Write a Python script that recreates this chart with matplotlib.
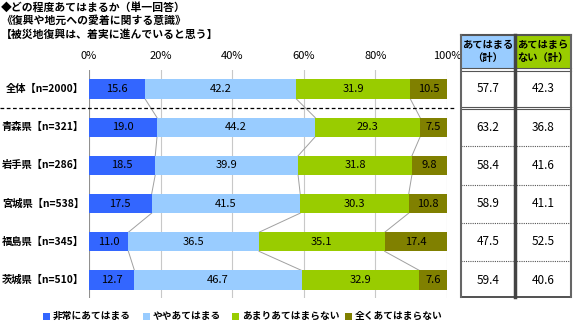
import numpy as np
import matplotlib
matplotlib.use('Agg')
import matplotlib.pyplot as plt
from matplotlib.patches import Rectangle

plt.rcParams['font.family'] = ['Noto Sans CJK JP', 'DejaVu Sans']

# ---- data ----
categories = ['全体【n=2000】', '青森県【n=321】', '岩手県【n=286】',
              '宮城県【n=538】', '福島県【n=345】', '茨城県【n=510】']
very_true = [15.6, 19.0, 18.5, 17.5, 11.0, 12.7]
somewhat_true = [42.2, 44.2, 39.9, 41.5, 36.5, 46.7]
not_really = [31.9, 29.3, 31.8, 30.3, 35.1, 32.9]
not_at_all = [10.5, 7.5, 9.8, 10.8, 17.4, 7.6]
total_true = [57.7, 63.2, 58.4, 58.9, 47.5, 59.4]
total_false = [42.3, 36.8, 41.6, 41.1, 52.5, 40.6]

series_names = ['非常にあてはまる', 'ややあてはまる', 'あまりあてはまらない', '全くあてはまらない']
colors = ['#3366FF', '#99CCFF', '#99CC00', '#808000']
xticks = [0, 20, 40, 60, 80, 100]
title_lines = ['◆どの程度あてはまるか（単一回答）',
               '《復興や地元への愛着に関する意識》',
               '【被災地復興は、着実に進んでいると思う】']
table_headers = ['あてはまる\n（計）', 'あてはまら\nない（計）']

W, H = 573, 329
fig = plt.figure(figsize=(W / 100, H / 100), dpi=100)

# layout in pixels
x0_px, x1_px = 89, 447
y_top_px, y_bot_px = 70, 298
row0_px, row_step = 89, 38.2


def row_px(i):
    return row0_px + row_step * i


ax = fig.add_axes([x0_px / W, 1 - y_bot_px / H, (x1_px - x0_px) / W, (y_bot_px - y_top_px) / H])
ax.set_xlim(0, 100)
ax.set_ylim((y_bot_px - row0_px) / row_step, (y_top_px - row0_px) / row_step)

data = np.array([very_true, somewhat_true, not_really, not_at_all])
ypos = np.arange(len(categories))
bar_h = 0.5
left = np.zeros(len(categories))
for vals, col in zip(data, colors):
    ax.barh(ypos, vals, left=left, height=bar_h, color=col, zorder=3)
    for y, v, l in zip(ypos, vals, left):
        ax.text(l + v / 2, y, f'{v:.1f}', ha='center', va='center', fontsize=8, zorder=4)
    left += vals

# series lines joining segment boundaries between rows
cum = np.cumsum(data, axis=0)
for k in range(3):
    for i in range(len(categories) - 1):
        ax.plot([cum[k, i], cum[k, i + 1]], [i + bar_h / 2, i + 1 - bar_h / 2],
                color='#A0A0A0', lw=0.7, zorder=2)

for t in xticks:
    ax.axvline(t, color='#C8C8C8' if t else '#909090', lw=0.8, zorder=1)
ax.set_xticks(xticks)
ax.set_xticklabels([f'{t}%' for t in xticks], fontsize=8)
ax.xaxis.tick_top()
ax.tick_params(axis='x', length=0, pad=6.5)
ax.set_yticks([])
for s in ax.spines.values():
    s.set_visible(False)
ax.patch.set_alpha(0)

# overlay in pixel coordinates for labels, table, legend
ov = fig.add_axes([0, 0, 1, 1], zorder=5)
ov.set_xlim(0, W)
ov.set_ylim(H, 0)
ov.axis('off')

for j, line in enumerate(title_lines):
    ov.text(1, 7 + 14 * j, line, ha='left', va='center', fontsize=7.8, fontweight='bold')

for i, cat in enumerate(categories):
    ov.text(84, row_px(i), cat, ha='right', va='center', fontsize=7.4, fontweight='bold')

# dashed separator under the overall row
sep_y = (row_px(0) + row_px(1)) / 2
ov.plot([0, 456], [sep_y, sep_y], color='black', lw=0.9, ls=(0, (3, 2)))

# summary table
col_x = [461, 515, 571]
head_top, head_bot = 35, 68
header_colors = ['#99CCFF', '#99CC00']
for c in range(2):
    ov.add_patch(Rectangle((col_x[c], head_top), col_x[c + 1] - col_x[c], head_bot - head_top,
                           facecolor=header_colors[c], edgecolor='none'))
    ov.text((col_x[c] + col_x[c + 1]) / 2, (head_top + head_bot) / 2, table_headers[c],
            ha='center', va='center', fontsize=7.4, fontweight='bold', linespacing=1.25)

bounds = [70] + [(row_px(i) + row_px(i + 1)) / 2 for i in range(len(categories) - 1)] + [297]
for i in range(len(categories)):
    for c, vals in enumerate([total_true, total_false]):
        ov.text((col_x[c] + col_x[c + 1]) / 2, row_px(i), f'{vals[i]:.1f}',
                ha='center', va='center', fontsize=8.5)

# horizontal rules
ov.plot([col_x[0], col_x[2]], [head_top, head_top], color='#555555', lw=1.5)
for yy in (head_bot, head_bot + 2.5):
    ov.plot([col_x[0], col_x[2]], [yy, yy], color='#555555', lw=0.8)
for yy in (bounds[1] - 1.3, bounds[1] + 1.3):
    ov.plot([col_x[0], col_x[2]], [yy, yy], color='#555555', lw=0.8)
for yy in bounds[2:-1]:
    ov.plot([col_x[0], col_x[2]], [yy, yy], color='#555555', lw=0.8, ls=(0, (1, 1)))
ov.plot([col_x[0], col_x[2]], [bounds[-1], bounds[-1]], color='#333333', lw=1.2)

# vertical rules
ov.plot([col_x[0], col_x[0]], [head_top, bounds[-1]], color='#666666', lw=1.5)
ov.plot([col_x[1], col_x[1]], [head_top, bounds[-1]], color='#444444', lw=2.5)
ov.plot([col_x[2], col_x[2]], [head_top, bounds[-1]], color='#666666', lw=1.5)

# legend
leg_x = [43, 143, 232, 345]
leg_y = 316
for x, name, col in zip(leg_x, series_names, colors):
    ov.add_patch(Rectangle((x, leg_y - 3.5), 7, 7, facecolor=col, edgecolor='none'))
    ov.text(x + 10, leg_y, name, ha='left', va='center', fontsize=7, fontweight='bold')

fig.savefig('out.png', dpi=100)
